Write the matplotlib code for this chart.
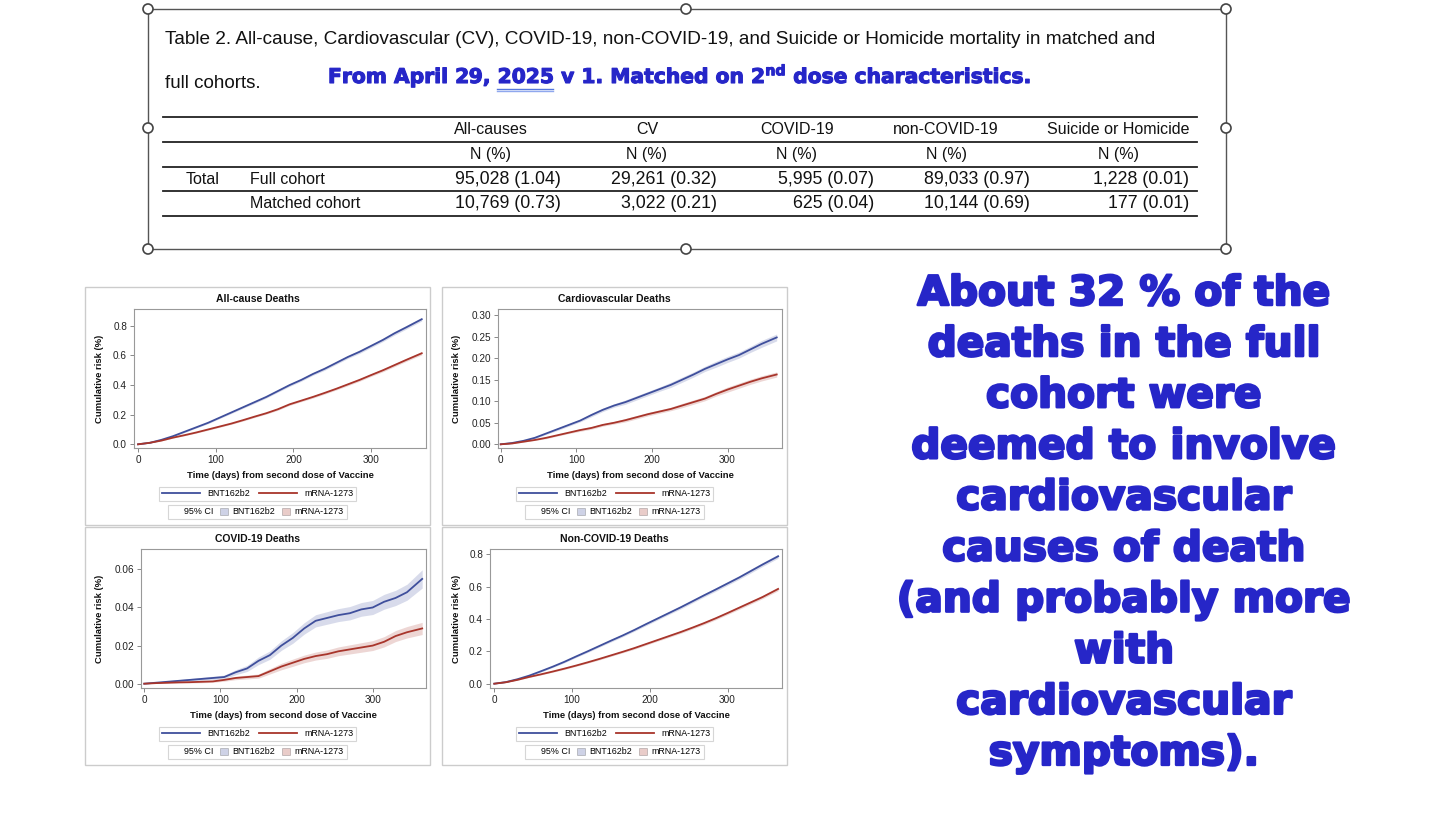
import matplotlib
matplotlib.use("Agg")
import matplotlib.pyplot as plt
import matplotlib.patheffects as pe
from matplotlib.lines import Line2D
from matplotlib.patches import Rectangle, Circle, Patch
from matplotlib.ticker import FormatStrFormatter

plt.rcParams["font.family"] = ["Liberation Sans", "DejaVu Sans"]
plt.rcParams["mathtext.fontset"] = "custom"
plt.rcParams["mathtext.bf"] = "DejaVu Sans:bold"
plt.rcParams["mathtext.rm"] = "DejaVu Sans"

W, H = 1456, 819

# ---- table data ----
table_cols = ['All-causes', 'CV', 'COVID-19', 'non-COVID-19', 'Suicide or Homicide']
full_n = [95028, 29261, 5995, 89033, 1228]
full_pct = [1.04, 0.32, 0.07, 0.97, 0.01]
matched_n = [10769, 3022, 625, 10144, 177]
matched_pct = [0.73, 0.21, 0.04, 0.69, 0.01]

# ---- cumulative risk curves ----
days = [0, 15, 30, 45, 60, 75, 90, 105, 120, 135, 150, 165, 180,
        195, 210, 225, 240, 255, 270, 285, 300, 315, 330, 345, 365]

allcause_bnt = [0, 0.01, 0.03, 0.055, 0.085, 0.115, 0.145, 0.18, 0.215, 0.25, 0.285, 0.32, 0.36,
                0.40, 0.435, 0.475, 0.51, 0.55, 0.59, 0.625, 0.665, 0.705, 0.75, 0.79, 0.845]
allcause_mrna = [0, 0.01, 0.025, 0.045, 0.062, 0.08, 0.10, 0.12, 0.14, 0.163, 0.187, 0.21, 0.237,
                 0.27, 0.295, 0.32, 0.347, 0.375, 0.405, 0.435, 0.468, 0.50, 0.535, 0.57, 0.615]
allcause_bnt_ci = [0, .002, .003, .004, .005, .005, .006, .006, .007, .007, .008, .008, .008,
                   .009, .009, .009, .010, .010, .010, .011, .011, .011, .012, .012, .012]
allcause_mrna_ci = [0, .002, .002, .003, .004, .004, .005, .005, .005, .006, .006, .006, .007,
                    .007, .007, .008, .008, .008, .009, .009, .009, .010, .010, .010, .011]

cv_bnt = [0, 0.003, 0.008, 0.015, 0.025, 0.035, 0.045, 0.055, 0.068, 0.08, 0.09, 0.098, 0.108,
          0.118, 0.128, 0.138, 0.15, 0.162, 0.175, 0.186, 0.197, 0.207, 0.22, 0.233, 0.248]
cv_mrna = [0, 0.002, 0.006, 0.01, 0.015, 0.021, 0.027, 0.033, 0.038, 0.045, 0.05, 0.056, 0.063,
           0.07, 0.076, 0.082, 0.09, 0.098, 0.106, 0.117, 0.127, 0.136, 0.145, 0.153, 0.162]
cv_bnt_ci = [0, .001, .001, .002, .002, .003, .003, .003, .004, .004, .004, .005, .005,
             .005, .005, .006, .006, .006, .006, .007, .007, .007, .007, .008, .008]
cv_mrna_ci = [0, .001, .001, .001, .002, .002, .002, .003, .003, .003, .003, .004, .004,
              .004, .004, .004, .005, .005, .005, .005, .006, .006, .006, .006, .006]

covid_bnt = [0, 0.0005, 0.001, 0.0015, 0.002, 0.0025, 0.003, 0.0035, 0.006, 0.008, 0.012, 0.015, 0.020,
             0.024, 0.029, 0.033, 0.0345, 0.036, 0.037, 0.039, 0.040, 0.043, 0.045, 0.048, 0.055]
covid_mrna = [0, 0.0003, 0.0005, 0.0007, 0.0008, 0.001, 0.0012, 0.002, 0.003, 0.0035, 0.004, 0.0065, 0.009,
              0.011, 0.013, 0.0145, 0.0155, 0.017, 0.018, 0.019, 0.020, 0.022, 0.025, 0.027, 0.029]
covid_bnt_ci = [0, .0003, .0005, .0006, .0007, .0008, .0009, .001, .0013, .0016, .002, .0022, .0025,
                .0028, .003, .0032, .0033, .0034, .0035, .0036, .0037, .0039, .004, .0042, .0048]
covid_mrna_ci = [0, .0002, .0003, .0004, .0004, .0005, .0005, .0007, .0009, .001, .0011, .0014, .0017,
                 .0019, .002, .0021, .0022, .0023, .0024, .0025, .0026, .0027, .0029, .003, .0032]

noncovid_bnt = [0, 0.01, 0.028, 0.05, 0.077, 0.105, 0.135, 0.168, 0.2, 0.233, 0.266, 0.298, 0.332,
                0.368, 0.403, 0.438, 0.473, 0.51, 0.547, 0.583, 0.62, 0.657, 0.697, 0.737, 0.788]
noncovid_mrna = [0, 0.009, 0.024, 0.042, 0.058, 0.075, 0.093, 0.112, 0.132, 0.153, 0.175, 0.197, 0.22,
                 0.245, 0.27, 0.295, 0.32, 0.347, 0.375, 0.405, 0.437, 0.47, 0.503, 0.536, 0.586]
noncovid_bnt_ci = allcause_bnt_ci
noncovid_mrna_ci = allcause_mrna_ci

summary_lines = ["About 32 % of the", "deaths in the full", "cohort were", "deemed to involve",
                 "cardiovascular", "causes of death", "(and probably more", "with",
                 "cardiovascular", "symptoms)."]

BLUE = '#3F4F9C'
RED = '#A8352B'
TXT_BLUE = '#2626C8'

fig = plt.figure(figsize=(W / 100, H / 100), dpi=100)
bg = fig.add_axes([0, 0, 1, 1])
bg.set_xlim(0, W)
bg.set_ylim(H, 0)
bg.axis('off')

# ---- table box with selection handles ----
bg.add_patch(Rectangle((148, 9), 1226 - 148, 249 - 9, fill=False, ec='#555555', lw=1))
for hx, hy in [(148, 9), (686, 9), (1226, 9), (148, 128), (1226, 128),
               (148, 249), (686, 249), (1226, 249)]:
    bg.add_patch(Circle((hx, hy), 5, fc='white', ec='#444444', lw=1.2, zorder=5))

bg.text(165, 40, 'Table 2. All-cause, Cardiovascular (CV), COVID-19, non-COVID-19, and Suicide or Homicide mortality in matched and',
        fontsize=13.7, va='center', ha='left', color='#111111')
bg.text(165, 83, 'full cohorts.', fontsize=13.5, va='center', ha='left', color='#111111')

SUB_FS = 14.6
stroke = [pe.withStroke(linewidth=0.8, foreground=TXT_BLUE)]
bg.text(328, 76, r'From April 29, 2025 v 1. Matched on 2$^{\mathbf{nd}}$ dose characteristics.',
        fontsize=SUB_FS, fontweight='bold', family='DejaVu Sans', va='center', ha='left',
        color=TXT_BLUE, path_effects=stroke)
# underline "2025" (spell-check style)
r = fig.canvas.get_renderer()
t1 = bg.text(328, 76, 'From April 29, 2025', fontsize=SUB_FS, fontweight='bold', family='DejaVu Sans', alpha=0)
t2 = bg.text(328, 76, '2025', fontsize=SUB_FS, fontweight='bold', family='DejaVu Sans', alpha=0)
x_end = 328 + t1.get_window_extent(r).width
x_start = x_end - t2.get_window_extent(r).width
bg.plot([x_start, x_end], [88.5, 88.5], color='#5577dd', lw=1)
bg.plot([x_start, x_end], [91, 91], color='#8fa8ee', lw=1)

for yl in [117, 142, 167, 191, 216]:
    bg.plot([163, 1197], [yl, yl], color='#222222', lw=1.3)

col_cx = [491, 647, 797, 946, 1118]
col_rx = [561, 717, 874, 1030, 1189]
for name, cx in zip(table_cols, col_cx):
    bg.text(cx, 129, name, fontsize=11.5, ha='center', va='center', color='#111111')
    bg.text(cx, 155, 'N (%)', fontsize=11.5, ha='center', va='center', color='#111111')
bg.text(203, 180, 'Total', fontsize=11.5, ha='center', va='center', color='#111111')
bg.text(250, 180, 'Full cohort', fontsize=11.5, ha='left', va='center', color='#111111')
bg.text(250, 204, 'Matched cohort', fontsize=11.5, ha='left', va='center', color='#111111')
for i, rx in enumerate(col_rx):
    bg.text(rx, 180, f'{full_n[i]:,} ({full_pct[i]:.2f})', fontsize=12.8, ha='right', va='center', color='#111111')
    bg.text(rx, 204, f'{matched_n[i]:,} ({matched_pct[i]:.2f})', fontsize=12.8, ha='right', va='center', color='#111111')

# ---- right-hand note ----
for i, line in enumerate(summary_lines):
    bg.text(1124, 294 + i * 51.1, line, fontsize=29.3, fontweight='bold', family='DejaVu Sans',
            ha='center', va='center', color=TXT_BLUE,
            path_effects=[pe.withStroke(linewidth=1.8, foreground=TXT_BLUE)])

# ---- four KM panels ----
panels = [
    dict(title='All-cause Deaths', bnt=allcause_bnt, mrna=allcause_mrna,
         bci=allcause_bnt_ci, mci=allcause_mrna_ci,
         box=(85, 287, 430, 525), ax=(134, 309, 426, 448),
         xlim=(-5.2, 370.5), ylim=(-0.025, 0.914), yticks=[0, .2, .4, .6, .8], fmt='%.1f'),
    dict(title='Cardiovascular Deaths', bnt=cv_bnt, mrna=cv_mrna,
         bci=cv_bnt_ci, mci=cv_mrna_ci,
         box=(442, 287, 787, 525), ax=(498, 309, 782, 448),
         xlim=(-3.6, 372), ylim=(-0.0086, 0.314), yticks=[0, .05, .10, .15, .20, .25, .30], fmt='%.2f'),
    dict(title='COVID-19 Deaths', bnt=covid_bnt, mrna=covid_mrna,
         bci=covid_bnt_ci, mci=covid_mrna_ci,
         box=(85, 527, 430, 765), ax=(141, 549, 426, 688),
         xlim=(-4.3, 370), ylim=(-0.00226, 0.0707), yticks=[0, .02, .04, .06], fmt='%.2f'),
    dict(title='Non-COVID-19 Deaths', bnt=noncovid_bnt, mrna=noncovid_mrna,
         bci=noncovid_bnt_ci, mci=noncovid_mrna_ci,
         box=(442, 527, 787, 765), ax=(490, 549, 782, 688),
         xlim=(-5.5, 370), ylim=(-0.0266, 0.833), yticks=[0, .2, .4, .6, .8], fmt='%.1f'),
]

for p in panels:
    bx0, by0, bx1, by1 = p['box']
    bg.add_patch(Rectangle((bx0, by0), bx1 - bx0, by1 - by0, fill=False, ec='#CCCCCC', lw=1))
    pcx = (bx0 + bx1) / 2
    bg.text(pcx, by0 + 12, p['title'], fontsize=7.5, fontweight='bold', ha='center', va='center', color='#111111')

    l, t, rr, b = p['ax']
    ax = fig.add_axes([l / W, 1 - b / H, (rr - l) / W, (b - t) / H])
    lo_b = [v - e for v, e in zip(p['bnt'], p['bci'])]
    hi_b = [v + e for v, e in zip(p['bnt'], p['bci'])]
    lo_m = [v - e for v, e in zip(p['mrna'], p['mci'])]
    hi_m = [v + e for v, e in zip(p['mrna'], p['mci'])]
    ax.fill_between(days, lo_b, hi_b, color=BLUE, alpha=0.2, lw=0)
    ax.fill_between(days, lo_m, hi_m, color=RED, alpha=0.2, lw=0)
    ax.plot(days, p['bnt'], color=BLUE, lw=1.3)
    ax.plot(days, p['mrna'], color=RED, lw=1.3)
    ax.set_xlim(*p['xlim'])
    ax.set_ylim(*p['ylim'])
    ax.set_xticks([0, 100, 200, 300])
    ax.set_yticks(p['yticks'])
    ax.yaxis.set_major_formatter(FormatStrFormatter(p['fmt']))
    for s in ax.spines.values():
        s.set_color('#999999')
        s.set_linewidth(0.8)
    ax.tick_params(labelsize=7.2, length=3, width=0.7, color='#888888', labelcolor='#222222', pad=2)
    ax.set_xlabel('Time (days) from second dose of Vaccine', fontsize=6.8, fontweight='bold', color='#111111')
    ax.xaxis.set_label_coords(0.5, -23 / (b - t))
    ax.set_ylabel('Cumulative risk (%)', fontsize=6.8, fontweight='bold', color='#111111')
    ax.yaxis.set_label_coords((bx0 + 19 - l) / (rr - l), 0.5)

    h_lines = [Line2D([], [], color=BLUE, lw=1.3), Line2D([], [], color=RED, lw=1.3)]
    leg1 = ax.legend(h_lines, ['BNT162b2', 'mRNA-1273'], ncol=2, fontsize=6.4, frameon=True,
                     fancybox=False, edgecolor='#CCCCCC', handlelength=4.3, columnspacing=1.0,
                     handletextpad=0.8, borderpad=0.3, loc='center',
                     bbox_to_anchor=(pcx, by1 - 31), bbox_transform=bg.transData)
    leg1.get_frame().set_linewidth(0.8)
    ax.add_artist(leg1)
    h_ci = [Line2D([], [], ls='none'),
            Patch(fc=BLUE, alpha=0.25, ec='#333333', lw=0.7),
            Patch(fc=RED, alpha=0.25, ec='#333333', lw=0.7)]
    leg2 = ax.legend(h_ci, ['95% CI', 'BNT162b2', 'mRNA-1273'], ncol=3, fontsize=6.4, frameon=True,
                     fancybox=False, edgecolor='#CCCCCC', handlelength=0.9, handleheight=0.9,
                     columnspacing=0.8, handletextpad=0.5, borderpad=0.3, loc='center',
                     bbox_to_anchor=(pcx, by1 - 13), bbox_transform=bg.transData)
    leg2.get_frame().set_linewidth(0.8)

fig.savefig('out.png', dpi=100)
